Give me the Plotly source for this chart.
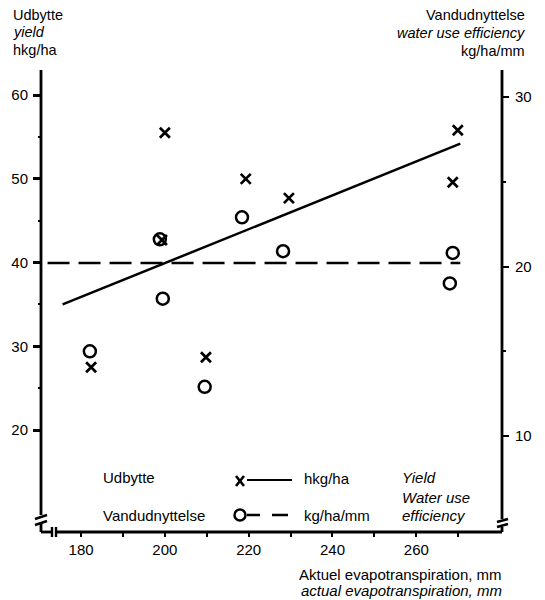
import plotly.graph_objects as go

# Actual evapotranspiration (mm) and yield (hkg/ha) per site
et_yield = [182.4, 199.3, 200.0, 209.8, 219.3, 229.6, 268.7, 269.9]
yield_hkg = [27.5, 42.7, 55.5, 28.7, 50.0, 47.7, 49.6, 55.8]

# Actual evapotranspiration (mm) and water use efficiency (kg/ha/mm) per site
et_wue = [182.1, 198.8, 199.5, 209.5, 218.4, 228.2, 268.0, 268.7]
wue = [15.0, 21.6, 18.1, 12.9, 22.9, 20.9, 19.0, 20.8]

# Fitted lines: yield regression and mean water use efficiency
yield_fit_et = [175.6, 270.5]
yield_fit = [35.0, 54.2]
wue_fit_et = [172.0, 270.5]
wue_fit = [20.2, 20.2]

# Axis ticks
x_ticks = [180, 190, 200, 210, 220, 230, 240, 250, 260, 270]
x_labels = ["180", "", "200", "", "220", "", "240", "", "260", ""]
y_ticks = [20, 30, 40, 50, 60]
y_minor = [25, 35, 45, 55]
y2_ticks = [10, 20, 30]
y2_minor = [15, 25]

FONT = "Liberation Sans, Arial, Helvetica, sans-serif"
INK = "black"

# Plot area in pixels
W, H = 545, 600
L, R, T, B = 41, 502, 70, 532


def px(x):
    return (x - L) / (R - L)


def py(y):
    return (B - y) / (B - T)


fig = go.Figure()

fig.add_trace(go.Scatter(
    x=yield_fit_et, y=yield_fit, mode="lines",
    line=dict(color=INK, width=2.5), showlegend=False, yaxis="y"))
fig.add_trace(go.Scatter(
    x=wue_fit_et, y=wue_fit, mode="lines",
    line=dict(color=INK, width=2.5, dash="22px,9px"), showlegend=False, yaxis="y2"))
fig.add_trace(go.Scatter(
    x=et_yield, y=yield_hkg, mode="markers",
    marker=dict(symbol="x-thin", size=10, line=dict(color=INK, width=2.7)),
    showlegend=False, yaxis="y"))
fig.add_trace(go.Scatter(
    x=et_wue, y=wue, mode="markers",
    marker=dict(symbol="circle-open", size=12, color=INK, line=dict(color=INK, width=2.5)),
    showlegend=False, yaxis="y2"))


def seg(x0, y0, x1, y1, w=2.8):
    return dict(type="line", xref="paper", yref="paper",
                x0=px(x0), y0=py(y0), x1=px(x1), y1=py(y1),
                line=dict(color=INK, width=w), layer="above")


shapes = [
    # left axis with break
    seg(L, T, L, 515),
    seg(35, 519, 47, 515, 2.4),
    seg(35, 525, 47, 521, 2.4),
    seg(L, 523, L, B),
    # bottom axis with break
    seg(L, B, 51, B),
    seg(52, 527, 52, 537, 2.4),
    seg(56, 527, 56, 537, 2.4),
    seg(56, B, R, B),
    # right axis with break
    seg(R, B, R, 527),
    seg(497, 527, 508, 524, 2.4),
    seg(497, 522, 508, 519, 2.4),
    seg(R, 519, R, T),
    # legend keys
    seg(236, 476, 244, 486, 2.6),
    seg(236, 486, 244, 476, 2.6),
    seg(247, 480, 292, 480, 2.2),
    seg(247, 515, 260, 515, 2.5),
    seg(272, 515, 288, 515, 2.5),
    dict(type="circle", xref="paper", yref="paper",
         x0=px(234.5), x1=px(245.5), y0=py(520.5), y1=py(509.5),
         line=dict(color=INK, width=2.5), layer="above"),
]


def label(text, x, y, anchor="left", size=15, italic=False):
    return dict(text=text, xref="paper", yref="paper", x=px(x), y=py(y),
                xanchor=anchor, yanchor="middle", showarrow=False,
                font=dict(family=FONT, size=size, color=INK,
                          style="italic" if italic else "normal"))


annotations = [
    # left axis title
    label("Udbytte", 11, 15, size=14.5),
    label("yield", 11, 32, size=14.5, italic=True),
    label("hkg/ha", 11, 50, size=14.5),
    # right axis title
    label("Vandudnyttelse", 527, 15, anchor="right", size=14.5),
    label("water use efficiency", 527, 33, anchor="right", size=14.5, italic=True),
    label("kg/ha/mm", 527, 51, anchor="right", size=14.5),
    # x axis title
    label("Aktuel evapotranspiration, mm", 504, 574, anchor="right"),
    label("actual evapotranspiration, mm", 504, 590, anchor="right", italic=True),
    # legend
    label("Udbytte", 101, 477),
    label("hkg/ha", 302, 478),
    label("Yield", 400, 477, italic=True),
    label("Water use", 400, 497, italic=True),
    label("Vandudnyttelse", 101, 515),
    label("kg/ha/mm", 302, 515),
    label("efficiency", 400, 515, italic=True),
]

tickfont = dict(family=FONT, size=15, color=INK)

fig.update_layout(
    width=W, height=H,
    margin=dict(l=L, r=W - R, t=T, b=H - B, pad=0),
    paper_bgcolor="white", plot_bgcolor="white",
    showlegend=False,
    shapes=shapes,
    annotations=annotations,
    xaxis=dict(
        range=[170.44, 280.45], tickvals=x_ticks, ticktext=x_labels,
        ticks="outside", ticklen=4, tickwidth=2.2, tickcolor=INK,
        tickfont=tickfont,
        showline=False, showgrid=False, zeroline=False),
    yaxis=dict(
        range=[7.82, 63.0], tickvals=y_ticks,
        ticks="outside", ticklen=7, tickwidth=2.5, tickcolor=INK,
        minor=dict(tickvals=y_minor, ticks="outside", ticklen=2, tickwidth=1.5, tickcolor=INK),
        tickfont=tickfont, ticklabelstandoff=2,
        showline=False, showgrid=False, zeroline=False),
    yaxis2=dict(
        range=[4.34, 31.59], tickvals=y2_ticks, overlaying="y", side="right",
        ticks="outside", ticklen=6, tickwidth=2.2, tickcolor=INK,
        minor=dict(tickvals=y2_minor, ticks="outside", ticklen=3, tickwidth=1.5, tickcolor=INK),
        tickfont=tickfont, ticklabelstandoff=3,
        showline=False, showgrid=False, zeroline=False),
)

fig.write_html("out.html")
